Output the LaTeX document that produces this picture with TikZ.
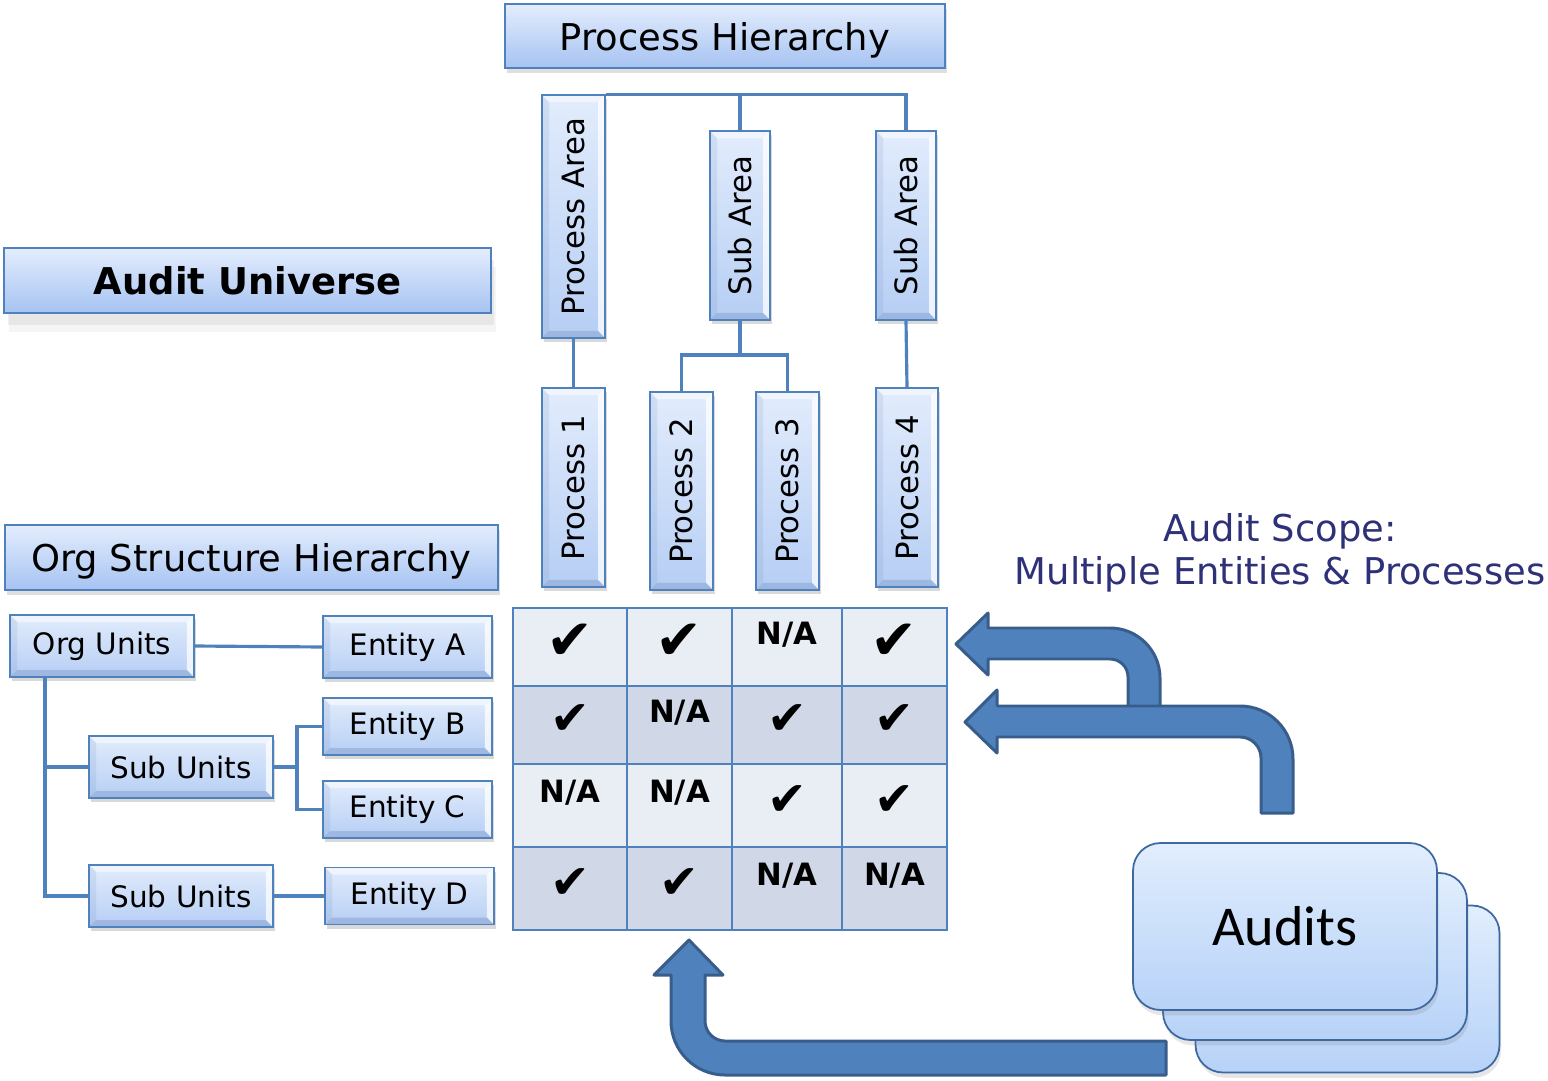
\documentclass[tikz,border=0pt]{standalone}
\usepackage{fontspec}
\setmainfont{DejaVu Sans}
\newfontfamily\auditfont{Carlito}
\usepackage{graphicx}
\usepackage{tikz}
\usetikzlibrary{shadows}

\definecolor{boxline}{RGB}{79,129,189}
\definecolor{bevtop}{RGB}{226,236,252}
\definecolor{bevbot}{RGB}{182,206,244}
\definecolor{bevdark}{RGB}{110,140,190}
\definecolor{headtop}{RGB}{228,237,253}
\definecolor{headbot}{RGB}{166,195,242}
\definecolor{gridlight}{RGB}{233,237,244}
\definecolor{griddark}{RGB}{208,216,232}
\definecolor{arrowfill}{RGB}{79,129,189}
\definecolor{arrowline}{RGB}{56,93,138}
\definecolor{scopeblue}{RGB}{46,49,120}
\definecolor{audtop}{RGB}{225,238,253}
\definecolor{audbot}{RGB}{183,210,248}
\definecolor{audline}{RGB}{62,104,160}

\begin{document}
\begin{tikzpicture}[x=0.02cm, y=-0.02cm,
    headbox/.style={draw=boxline, line width=1pt, top color=headtop, bottom color=headbot,
      inner sep=0pt, text depth=0pt, font=\fontsize{21}{25}\selectfont},
    bevelbox/.style={draw=boxline, line width=1pt, top color=bevtop, bottom color=bevbot, inner sep=0pt,
      drop shadow={shadow xshift=1pt, shadow yshift=-2.5pt, opacity=0.3},
      path picture={
        \fill[white, opacity=0.5] (path picture bounding box.north west) -- (path picture bounding box.north east)
          -- ([shift={(-0.14cm,-0.14cm)}]path picture bounding box.north east)
          -- ([shift={(0.14cm,-0.14cm)}]path picture bounding box.north west) -- cycle;
        \fill[white, opacity=0.75] (path picture bounding box.north east) -- (path picture bounding box.south east)
          -- ([shift={(-0.14cm,0.14cm)}]path picture bounding box.south east)
          -- ([shift={(-0.14cm,-0.14cm)}]path picture bounding box.north east) -- cycle;
        \fill[bevdark, opacity=0.35] (path picture bounding box.south east) -- (path picture bounding box.south west)
          -- ([shift={(0.14cm,0.14cm)}]path picture bounding box.south west)
          -- ([shift={(-0.14cm,0.14cm)}]path picture bounding box.south east) -- cycle;
        \fill[bevdark, opacity=0.15] (path picture bounding box.south west) -- (path picture bounding box.north west)
          -- ([shift={(0.14cm,-0.14cm)}]path picture bounding box.north west)
          -- ([shift={(0.14cm,0.14cm)}]path picture bounding box.south west) -- cycle;
      }},
    vbox/.style={bevelbox, font=\fontsize{17.5}{20}\selectfont, minimum width=1.26cm},
    hbox/.style={bevelbox, font=\fontsize{16.8}{20}\selectfont, minimum width=3.38cm, minimum height=1.14cm},
    link/.style={draw=boxline, line width=1.8pt},
    gridline/.style={draw=boxline, line width=1.4pt},
    ckheavy/.style={font=\fontsize{32}{32}\selectfont, yshift=3pt, node contents={✔}},
    cklight/.style={font=\fontsize{27}{27}\selectfont, yshift=3pt, node contents={✔}},
    namark/.style={font=\fontsize{17.5}{20}\selectfont\bfseries, yshift=7pt, node contents={N/A}},
    blockarrow/.style={fill=arrowfill, draw=arrowline, line width=1.7pt, line join=round},
    auditcard/.style={draw=audline, line width=1pt, rounded corners=0.55cm, top color=audtop, bottom color=audbot,
      minimum width=6.08cm, minimum height=3.34cm, drop shadow={shadow xshift=1pt, shadow yshift=-3pt, opacity=0.2}}]
    \useasboundingbox (0,0) rectangle (1548,1081);

    % Headings
    \node[headbox, minimum width=8.8cm, minimum height=1.28cm,
      drop shadow={shadow xshift=1pt, shadow yshift=-3pt, opacity=0.25}] (prochier) at (725,36) {Process Hierarchy};
    \node[headbox, minimum width=9.74cm, minimum height=1.3cm, font=\fontsize{21}{25}\selectfont\bfseries,
      drop shadow={shadow xshift=2pt, shadow yshift=-7pt, opacity=0.12},
      drop shadow={shadow xshift=3pt, shadow yshift=-11pt, opacity=0.08}] (auduniv) at (247.5,280.5) {Audit Universe};
    \node[headbox, minimum width=9.86cm, minimum height=1.3cm,
      drop shadow={shadow xshift=1pt, shadow yshift=-3pt, opacity=0.25}] (orghier) at (251.5,557.5) {Org Structure Hierarchy};

    % Process areas
    \node[vbox, minimum height=4.86cm] (parea) at (573.5,216.5) {\rotatebox{90}{Process Area}};
    \node[vbox, minimum width=1.2cm, minimum height=3.78cm] (suba) at (740,225.5) {\rotatebox{90}{Sub Area}};
    \node[vbox, minimum width=1.2cm, minimum height=3.78cm] (subb) at (906,225.5) {\rotatebox{90}{Sub Area}};

    % Processes
    \node[vbox, minimum height=3.98cm] (proc1) at (573.5,487.5) {\rotatebox{90}{Process 1}};
    \node[vbox, minimum height=3.96cm] (proc2) at (681.5,491) {\rotatebox{90}{Process 2}};
    \node[vbox, minimum height=3.96cm] (proc3) at (787.5,491) {\rotatebox{90}{Process 3}};
    \node[vbox, minimum width=1.24cm, minimum height=3.98cm] (proc4) at (907,487.5) {\rotatebox{90}{Process 4}};

    \draw[link] (parea.north east) -| (subb.north);
    \draw[link] (suba.north) |- (parea.north east);
    \draw[link] (parea.south) -- (proc1.north);
    \coordinate (subjoin) at (740,355);
    \draw[link] (suba.south) -- (subjoin);
    \draw[link] (proc2.north) |- (subjoin) -| (proc3.north);
    \draw[link] (subb.south) -- (proc4.north);

    % Org structure
    \node[hbox, minimum width=3.68cm, minimum height=1.24cm] (orgunits) at (102,646) {Org Units};
    \node[hbox, minimum width=3.68cm, minimum height=1.24cm] (subu1) at (181,767) {Sub Units};
    \node[hbox, minimum width=3.68cm, minimum height=1.24cm] (subu2) at (181,896) {Sub Units};
    \node[hbox, minimum height=1.24cm] (entA) at (407.5,647) {Entity A};
    \node[hbox] (entB) at (407.5,726.5) {Entity B};
    \node[hbox] (entC) at (407.5,809.5) {Entity C};
    \node[hbox] (entD) at (409.5,896) {Entity D};

    \draw[link] (orgunits.east) -- (entA.west);
    \coordinate (trunk) at (45,677);
    \draw[link] (trunk) |- (subu1.west);
    \draw[link] (trunk) |- (subu2.west);
    \coordinate (fork) at (297,767);
    \draw[link] (subu1.east) -- (fork);
    \draw[link] (entB.west) -| (fork);
    \draw[link] (entC.west) -| (fork);
    \draw[link] (subu2.east) -- (entD.west);

    % Scope grid
    \foreach \ya/\yb/\rowc in {608/686/gridlight, 686/764/griddark, 764/847/gridlight, 847/930/griddark}
      \fill[\rowc] (513,\ya) rectangle (947,\yb);
    \foreach \xx in {627,732,842}
      \draw[gridline] (\xx,608) -- (\xx,930);
    \foreach \yy in {686,764,847}
      \draw[gridline] (513,\yy) -- (947,\yy);
    \draw[gridline] (513,608) rectangle (947,930);
    \foreach \xc/\yc/\mk [count=\i] in {570/647/ckheavy, 679.5/647/ckheavy, 787/647/namark, 894.5/647/ckheavy,
        570/725/cklight, 679.5/725/namark, 787/725/cklight, 894.5/725/cklight,
        570/805.5/namark, 679.5/805.5/namark, 787/805.5/cklight, 894.5/805.5/cklight,
        570/888.5/cklight, 679.5/888.5/cklight, 787/888.5/namark, 894.5/888.5/namark}
      \node (mark\i) at (\xc,\yc) [\mk];

    % Scope label
    \node[text=scopeblue, align=center, font=\fontsize{21}{24.5}\selectfont] (scope) at (1280,553)
      {Audit Scope:\\Multiple Entities \& Processes};

    % Block arrows
    \draw[blockarrow] (956,644) -- (988,613) -- (988,628) -- (1110,628)
      .. controls (1137.6,628) and (1160,650.4) .. (1160,678) -- (1160,712) -- (1128,712) -- (1128,677)
      .. controls (1128,667) and (1120,659) .. (1110,659) -- (988,659) -- (988,675) -- cycle;
    \draw[blockarrow] (965,722) -- (997,690) -- (997,706) -- (1240,706)
      .. controls (1269.3,706) and (1293,729.7) .. (1293,759) -- (1293,813) -- (1261,813) -- (1261,758)
      .. controls (1261,746.4) and (1251.6,737) .. (1240,737) -- (997,737) -- (997,753) -- cycle;
    \draw[blockarrow] (689,940) -- (723,975) -- (705,975) -- (705,1021)
      .. controls (705,1032) and (714,1041) .. (725,1041) -- (1166,1041) -- (1166,1075) -- (725,1075)
      .. controls (695.2,1075) and (671,1050.8) .. (671,1021) -- (671,975) -- (654,975) -- cycle;

    % Audits
    \node[auditcard] (auditsc) at (1347.5,989) {};
    \node[auditcard] (auditsb) at (1315,956.5) {};
    \node[auditcard, font=\auditfont\fontsize{32}{36}\selectfont] (audits) at (1285,926.5) {Audits};
\end{tikzpicture}
\end{document}
